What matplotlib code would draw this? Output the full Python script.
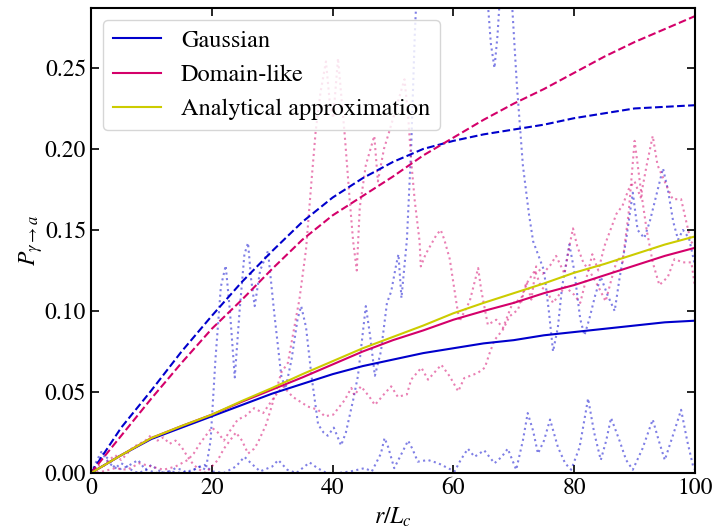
import numpy as np
import matplotlib
matplotlib.use("Agg")
import matplotlib.pyplot as plt

plt.rcParams["font.family"] = ["STIXGeneral", "DejaVu Serif"]
plt.rcParams["mathtext.fontset"] = "stix"

# mean curves
r_mean = [0, 5, 10, 15, 20, 25, 30, 35, 40, 45, 50, 55, 60, 65, 70, 75, 80, 85, 90, 95, 100]
gauss_solid = [0, 0.011, 0.021, 0.028, 0.035, 0.042, 0.049, 0.055, 0.061, 0.066, 0.070, 0.074, 0.077, 0.080, 0.082, 0.085, 0.087, 0.089, 0.091, 0.093, 0.094]
domain_solid = [0, 0.011, 0.0216, 0.029, 0.036, 0.044, 0.0515, 0.059, 0.067, 0.075, 0.082, 0.088, 0.0946, 0.100, 0.105, 0.111, 0.116, 0.122, 0.128, 0.134, 0.139]
analytic = [0, 0.011, 0.0216, 0.029, 0.036, 0.0445, 0.0525, 0.061, 0.069, 0.077, 0.084, 0.091, 0.0986, 0.105, 0.111, 0.117, 0.1236, 0.129, 0.135, 0.141, 0.146]
gauss_dashed = [0, 0.028, 0.051, 0.075, 0.097, 0.118, 0.137, 0.155, 0.170, 0.182, 0.192, 0.200, 0.205, 0.209, 0.212, 0.215, 0.219, 0.222, 0.225, 0.226, 0.227]
domain_dashed = [0, 0.023, 0.046, 0.068, 0.089, 0.107, 0.126, 0.144, 0.159, 0.171, 0.183, 0.196, 0.207, 0.218, 0.228, 0.237, 0.247, 0.257, 0.266, 0.274, 0.282]

# single realisations (dotted)
r_gA = [0, 1, 2, 3, 4, 5, 6, 7, 8, 9, 10, 11, 12, 13, 14, 15, 16, 17, 18, 19, 19.8, 20.6, 21.5, 22.3, 23, 23.8,
        24.6, 25.4, 26, 26.5, 27.1, 28, 29.3, 30.3, 31.5, 32.2, 33.2, 34.2, 34.8, 35.6, 36.5, 37.6, 38.5, 39.2,
        40.2, 41.4, 42.2, 43.4, 44.2, 45.5, 46.2, 47, 48, 49, 49.7, 50.5, 50.9, 51.4, 52.3, 53, 53.6, 54.2, 56,
        60, 64, 65.5, 66.2, 66.8, 67.3, 67.8, 69, 69.7, 70.5, 71.5, 72.5, 73.2, 74, 75, 75.8, 76.5, 77.3, 78,
        79.2, 80, 81, 81.7, 82.5, 83.5, 84.4, 85.5, 86.7, 87.5, 88.6, 89.7, 90.5, 91.6, 92.5, 93.5, 94.7, 95.5,
        96.4, 97.2, 98, 99, 100]
p_gA = [0, 0.006, 0.012, 0.008, 0.003, 0.006, 0.004, 0.001, 0.0, 0.002, 0.005, 0.002, 0.0, 0.001, 0.003, 0.002,
        0.0, 0.002, 0.004, 0.002, 0.02, 0.07, 0.115, 0.128, 0.1, 0.059, 0.1, 0.135, 0.142, 0.12, 0.103, 0.125,
        0.137, 0.1, 0.06, 0.052, 0.07, 0.095, 0.103, 0.09, 0.06, 0.03, 0.025, 0.023, 0.028, 0.017, 0.025, 0.045,
        0.06, 0.103, 0.085, 0.06, 0.075, 0.105, 0.112, 0.128, 0.135, 0.108, 0.144, 0.2, 0.27, 0.32, 0.33, 0.33,
        0.33, 0.3, 0.265, 0.25, 0.27, 0.3, 0.32, 0.29, 0.24, 0.19, 0.16, 0.143, 0.135, 0.125, 0.1, 0.075, 0.09,
        0.115, 0.141, 0.125, 0.095, 0.085, 0.095, 0.11, 0.121, 0.11, 0.1, 0.12, 0.144, 0.173, 0.15, 0.145, 0.155,
        0.17, 0.188, 0.175, 0.155, 0.144, 0.15, 0.145, 0.128]

r_gB = [0, 1, 1.7, 3, 4.5, 6, 7.8, 9, 11, 13, 15, 17, 18.8, 20, 22, 24, 25.4, 26.5, 28, 30, 31, 32.5, 34, 36.2,
        37.5, 39, 41, 43, 45.3, 46.5, 48, 48.6, 49.2, 50.2, 51.7, 52.5, 53.2, 54.1, 55.8, 57.5, 59.1, 60.2, 61.2,
        62.4, 63.5, 65.1, 66.8, 68, 69, 70.4, 71.5, 72.3, 73.2, 74, 75, 76, 77.3, 78.5, 79.5, 80.9, 82.3, 83.3,
        84.4, 85.3, 86.1, 87.5, 88.6, 89.7, 91.3, 93, 94, 95, 96.5, 97.7, 98.7, 99.7, 100]
p_gB = [0, 0.008, 0.013, 0.006, 0.002, 0.004, 0.008, 0.002, 0.0, 0.001, 0.0, 0.002, 0.005, 0.001, 0.0, 0.004,
        0.01, 0.006, 0.001, 0.004, 0.008, 0.002, 0.0, 0.0065, 0.003, 0.0, 0.0, 0.001, 0.003, 0.001, 0.012, 0.0216,
        0.016, 0.003, 0.014, 0.02, 0.015, 0.007, 0.008, 0.006, 0.003, 0.001, 0.008, 0.015, 0.01, 0.014, 0.006,
        0.01, 0.015, 0.002, 0.02, 0.037, 0.026, 0.012, 0.02, 0.033, 0.016, 0.006, 0.002, 0.016, 0.046, 0.025,
        0.008, 0.02, 0.034, 0.02, 0.008, 0.002, 0.015, 0.033, 0.02, 0.008, 0.025, 0.039, 0.02, 0.004, 0.002]

r_dA = [0, 1, 2, 3, 4, 5, 6, 7, 8, 9, 10, 11, 12, 13, 14, 15, 16, 17, 18, 19, 20, 21, 22, 23, 24, 25, 26, 27,
        27.6, 29, 29.9, 31.5, 32.6, 34, 34.5, 35.6, 36.5, 37.2, 38, 38.9, 39.5, 40.1, 40.9, 41.5, 42, 42.8, 43.4,
        44, 44.5, 45.5, 46.9, 47.5, 48.5, 49.4, 50.5, 51.9, 52.5, 53, 53.6, 54.4, 54.6, 55.4, 56.3, 57.2, 57.9,
        58.5, 59.4, 60.5, 61, 62.7, 64.1, 64.6, 65.7, 67.1, 68.2, 69.6, 70.4, 71.2, 72.1, 72.9, 73.7, 74.8, 76,
        77, 78.4, 79.2, 79.8, 80.5, 81.5, 82.8, 84, 85.2, 86.2, 87.2, 88, 89, 90, 91.1, 92, 93, 94.1, 95.5, 96.6,
        98, 99.4, 100]
p_dA = [0, 0.005, 0.004, 0.008, 0.011, 0.008, 0.012, 0.016, 0.018, 0.02, 0.0236, 0.02, 0.022, 0.018, 0.02, 0.016,
        0.01, 0.005, 0.002, 0.0, 0.004, 0.008, 0.015, 0.02, 0.025, 0.02, 0.012, 0.015, 0.0185, 0.03, 0.041, 0.062,
        0.068, 0.097, 0.107, 0.138, 0.18, 0.211, 0.235, 0.254, 0.23, 0.219, 0.256, 0.23, 0.209, 0.17, 0.143, 0.125,
        0.164, 0.19, 0.208, 0.18, 0.2, 0.211, 0.225, 0.243, 0.221, 0.193, 0.168, 0.143, 0.1275, 0.135, 0.141,
        0.147, 0.15, 0.144, 0.132, 0.105, 0.0936, 0.106, 0.1265, 0.113, 0.0915, 0.0946, 0.0895, 0.103, 0.107,
        0.105, 0.118, 0.107, 0.1275, 0.123, 0.128, 0.134, 0.123, 0.14, 0.151, 0.14, 0.13, 0.123, 0.115, 0.106,
        0.12, 0.133, 0.13, 0.16, 0.205, 0.173, 0.15, 0.13, 0.116, 0.121, 0.132, 0.13, 0.13, 0.115]

r_dB = [0, 2, 4, 6, 8, 10, 12, 14, 16, 17, 18, 19, 20, 21, 22, 23, 24.3, 25.5, 27, 28.5, 30, 31, 31.8, 33.4, 35.9,
        37.6, 38.7, 40.1, 42, 43.1, 43.6, 44.7, 46.1, 47, 48.6, 49.7, 50.8, 52.3, 53, 54.7, 55.8, 58, 59.4, 60.8,
        61.8, 64, 65.2, 66, 66.8, 68.2, 69.3, 70.7, 71.5, 72.3, 73.5, 74.5, 75.5, 76.5, 77.5, 78.5, 80, 81, 82,
        83, 84, 85, 86, 87, 88, 89, 90, 91, 92, 93, 93.8, 95.2, 96.3, 97.7, 98.5, 99.3, 100]
p_dB = [0, 0.001, 0.003, 0.002, 0.006, 0.004, 0.002, 0.004, 0.008, 0.012, 0.018, 0.023, 0.028, 0.025, 0.02,
        0.026, 0.033, 0.035, 0.04, 0.037, 0.045, 0.05, 0.0535, 0.047, 0.041, 0.039, 0.035, 0.036, 0.045, 0.0525,
        0.048, 0.0535, 0.047, 0.042, 0.049, 0.0535, 0.047, 0.0485, 0.0576, 0.065, 0.0576, 0.0668, 0.0596, 0.0504,
        0.0586, 0.0617, 0.065, 0.074, 0.082, 0.0885, 0.0967, 0.1008, 0.111, 0.118, 0.125, 0.115, 0.112, 0.105,
        0.11, 0.115, 0.11, 0.105, 0.12, 0.135, 0.125, 0.14, 0.15, 0.16, 0.165, 0.175, 0.18, 0.17, 0.19, 0.208,
        0.19, 0.178, 0.169, 0.169, 0.156, 0.143, 0.14]

c_gauss = "#0000cc"
c_domain = "#d4006a"
c_analytic = "#cccc00"

fig = plt.figure(figsize=(7.16, 5.30), dpi=100)
ax = fig.add_axes([91 / 716, 57 / 530, 604 / 716, 465 / 530])

# realisations, faint and dotted
ax.plot(r_gA, p_gA, ls=":", color=c_gauss, alpha=0.5, lw=1.5)
ax.plot(r_gB, p_gB, ls=":", color=c_gauss, alpha=0.5, lw=1.5)
ax.plot(r_dA, p_dA, ls=":", color=c_domain, alpha=0.5, lw=1.5)
ax.plot(r_dB, p_dB, ls=":", color=c_domain, alpha=0.5, lw=1.5)

ax.plot(r_mean, gauss_dashed, ls="--", color=c_gauss, lw=1.5)
ax.plot(r_mean, domain_dashed, ls="--", color=c_domain, lw=1.5)

ax.plot(r_mean, gauss_solid, color=c_gauss, lw=1.5, label="Gaussian")
ax.plot(r_mean, domain_solid, color=c_domain, lw=1.5, label="Domain-like")
ax.plot(r_mean, analytic, color=c_analytic, lw=1.5, label="Analytical approximation")

ax.set_xlim(0, 100)
ax.set_ylim(0, 0.287)
ax.set_yticks([0, 0.05, 0.10, 0.15, 0.20, 0.25])
ax.set_xlabel(r"$r/L_c$", fontsize=17, labelpad=5)
ax.set_ylabel(r"$P_{\gamma\to a}$", fontsize=17, labelpad=0)
ax.tick_params(direction="in", top=True, right=True, length=6, width=1.2, labelsize=17)
for s in ax.spines.values():
    s.set_linewidth(1.5)

ax.legend(loc="upper left", fontsize=17.5)

fig.savefig("out.png", dpi=100)
